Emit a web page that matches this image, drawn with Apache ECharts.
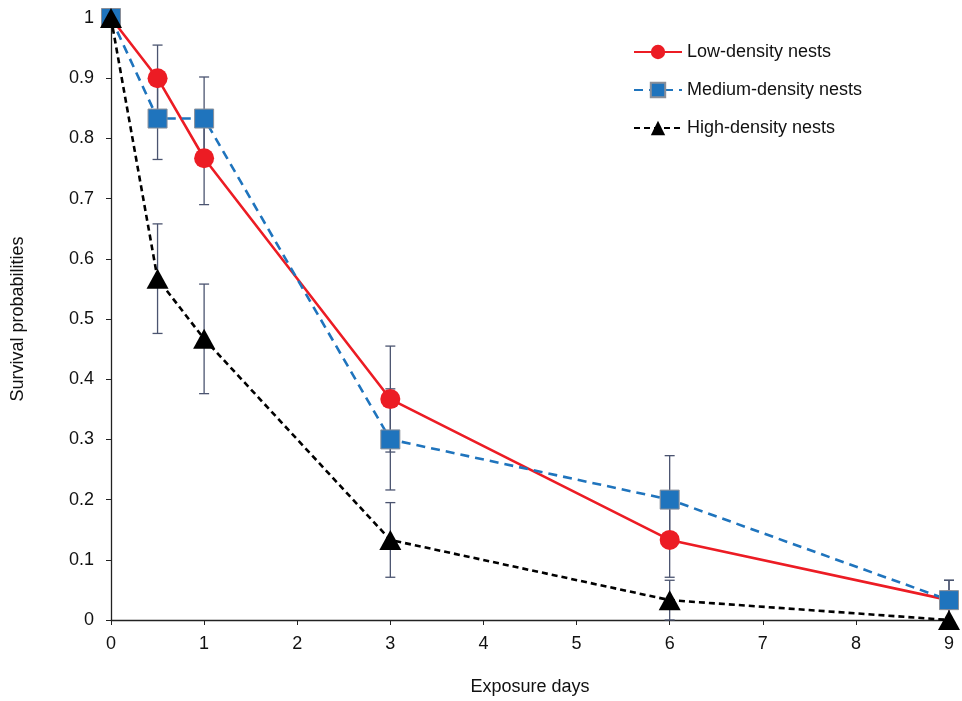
<!DOCTYPE html>
<html>
<head>
<meta charset="utf-8">
<script src="https://cdn.jsdelivr.net/npm/echarts@6/dist/echarts.min.js"></script>
<style>html,body{margin:0;padding:0;background:#fff}#c{width:962px;height:701px}</style>
</head>
<body>
<div id="c"></div>
<script>
const days = [0, 0.5, 1, 3, 6, 9];
const lowDensity = [1, 0.9, 0.767, 0.367, 0.133, 0.033];
const mediumDensity = [1, 0.833, 0.833, 0.3, 0.2, 0.033];
const highDensity = [1, 0.567, 0.467, 0.133, 0.033, 0];
const lowErr = [0, 0.055, 0.077, 0.088, 0.062, 0.033];
const mediumErr = [0, 0.068, 0.069, 0.084, 0.073, 0.033];
const highErr = [0, 0.091, 0.091, 0.062, 0.033, 0];
const seriesNames = ['Low-density nests', 'Medium-density nests', 'High-density nests'];

const font = 'Liberation Sans, Arial, Helvetica, sans-serif';
const errColor = '#4b5470';

function pairs(vals) { return days.map((d, i) => [d, vals[i]]); }
function errData(vals, errs) { return days.map((d, i) => [d, vals[i] - errs[i], vals[i] + errs[i]]); }

function errSeries(vals, errs) {
  return {
    type: 'custom',
    silent: true,
    z: 1,
    data: errData(vals, errs).filter(r => r[2] - r[1] > 0),
    renderItem: function (params, api) {
      const lo = api.coord([api.value(0), api.value(1)]);
      const hi = api.coord([api.value(0), api.value(2)]);
      const w = 5;
      const st = { stroke: errColor, lineWidth: 1.3 };
      return {
        type: 'group',
        children: [
          { type: 'line', shape: { x1: lo[0], y1: lo[1], x2: hi[0], y2: hi[1] }, style: st },
          { type: 'line', shape: { x1: lo[0] - w, y1: lo[1], x2: lo[0] + w, y2: lo[1] }, style: st },
          { type: 'line', shape: { x1: hi[0] - w, y1: hi[1], x2: hi[0] + w, y2: hi[1] }, style: st }
        ]
      };
    }
  };
}

const chart = echarts.init(document.getElementById('c'), null, { renderer: 'canvas' });
chart.setOption({
  animation: false,
  backgroundColor: '#fff',
  textStyle: { fontFamily: font },
  grid: { left: 111, right: 13, top: 18, bottom: 78, containLabel: false },
  legend: {
    orient: 'vertical',
    left: 628,
    top: 38,
    itemWidth: 48,
    itemHeight: 18,
    itemGap: 20,
    textStyle: { fontSize: 18, color: '#111', fontFamily: font },
    data: seriesNames
  },
  xAxis: {
    type: 'value',
    min: 0, max: 9, interval: 1,
    name: 'Exposure days',
    nameLocation: 'middle',
    nameGap: 58,
    nameTextStyle: { fontSize: 18, color: '#111' },
    axisLine: { lineStyle: { color: '#222', width: 1.3 } },
    axisTick: { show: true, length: 5, lineStyle: { color: '#222' } },
    axisLabel: { fontSize: 18, color: '#111', margin: 15 },
    splitLine: { show: false }
  },
  yAxis: {
    type: 'value',
    min: 0, max: 1, interval: 0.1,
    name: 'Survival probabilities',
    nameLocation: 'middle',
    nameGap: 84,
    nameTextStyle: { fontSize: 18, color: '#111' },
    axisLine: { show: true, lineStyle: { color: '#222', width: 1.3 } },
    axisTick: { show: true, length: 5, lineStyle: { color: '#222' } },
    axisLabel: { fontSize: 18, color: '#111', margin: 17, formatter: v => String(Math.round(v * 10) / 10) },
    splitLine: { show: false }
  },
  series: [
    errSeries(lowDensity, lowErr),
    errSeries(mediumDensity, mediumErr),
    errSeries(highDensity, highErr),
    {
      name: seriesNames[0], type: 'line', z: 3,
      data: pairs(lowDensity),
      symbol: 'circle', symbolSize: 20,
      lineStyle: { color: '#ec1c24', width: 2.6, type: 'solid' },
      itemStyle: { color: '#ec1c24' }
    },
    {
      name: seriesNames[1], type: 'line', z: 4,
      data: pairs(mediumDensity),
      symbol: 'rect', symbolSize: 19,
      lineStyle: { color: '#1f74bd', width: 2.6, type: [9, 6] },
      itemStyle: { color: '#1f74bd', borderColor: '#8a8f99', borderWidth: 1 }
    },
    {
      name: seriesNames[2], type: 'line', z: 5,
      data: pairs(highDensity),
      symbol: 'triangle', symbolSize: [22, 20],
      lineStyle: { color: '#000', width: 2.6, type: [6, 4] },
      itemStyle: { color: '#000' }
    }
  ]
});
</script>
</body>
</html>
